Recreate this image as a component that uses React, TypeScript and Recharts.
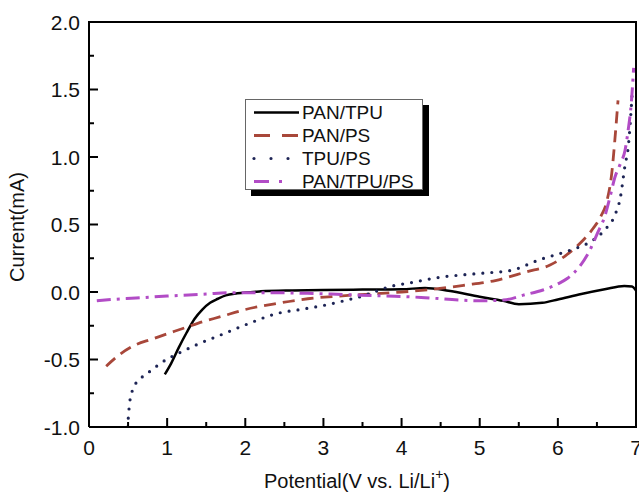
import { Legend, Line, LineChart, XAxis, YAxis } from "recharts";

const FONT = "'Liberation Sans', Arial, sans-serif";

const panTpuX = [0.97, 1.05, 1.15, 1.25, 1.35, 1.45, 1.55, 1.65, 1.75, 1.9, 2.2, 2.6, 3.0, 3.5, 4.0, 4.3, 4.6, 5.0, 5.3, 5.5, 5.8, 6.0, 6.3, 6.6, 6.85, 6.95, 7.0];
const panTpuY = [-0.61, -0.53, -0.41, -0.3, -0.2, -0.13, -0.08, -0.05, -0.025, -0.01, 0.005, 0.012, 0.015, 0.018, 0.02, 0.03, 0.01, -0.035, -0.065, -0.09, -0.08, -0.055, -0.015, 0.02, 0.045, 0.04, 0.01];

const panPsX = [0.22, 0.4, 0.6, 0.8, 1.0, 1.2, 1.4, 1.7, 2.0, 2.4, 2.8, 3.2, 3.6, 4.0, 4.4, 4.8, 5.2, 5.6, 5.9, 6.1, 6.3, 6.45, 6.55, 6.63, 6.69, 6.73, 6.77];
const panPsY = [-0.55, -0.46, -0.39, -0.35, -0.31, -0.27, -0.23, -0.18, -0.13, -0.085, -0.05, -0.03, -0.015, 0.0, 0.02, 0.05, 0.085, 0.15, 0.2, 0.27, 0.37, 0.47, 0.56, 0.68, 0.88, 1.13, 1.42];

const tpuPsX = [0.49, 0.5, 0.52, 0.57, 0.68, 0.8, 0.91, 1.16, 1.38, 1.72, 2.06, 2.4, 2.7, 3.0, 3.3, 3.5, 3.85, 4.13, 4.5, 4.85, 5.05, 5.4, 5.77, 6.16, 6.41, 6.6, 6.73, 6.8, 6.86, 6.9, 6.95];
const tpuPsY = [-1.0, -0.95, -0.82, -0.71, -0.63, -0.58, -0.53, -0.45, -0.39, -0.31, -0.23, -0.16, -0.13, -0.1, -0.06, -0.03, 0.04, 0.07, 0.11, 0.13, 0.14, 0.16, 0.24, 0.31, 0.37, 0.46, 0.57, 0.7, 0.94, 1.07, 1.46];

const panTpuPsX = [0.1, 0.3, 0.6, 1.0, 1.5, 1.8, 2.2, 2.8, 3.3, 3.8, 4.25, 4.75, 5.0, 5.3, 5.58, 5.81, 6.0, 6.12, 6.28, 6.41, 6.51, 6.6, 6.67, 6.73, 6.8, 6.86, 6.9, 6.94, 6.97];
const panTpuPsY = [-0.065, -0.055, -0.045, -0.03, -0.015, -0.005, -0.005, -0.01, -0.02, -0.03, -0.04, -0.06, -0.065, -0.06, -0.02, 0.015, 0.06, 0.1, 0.19, 0.31, 0.44, 0.56, 0.71, 0.85, 0.95, 1.05, 1.2, 1.4, 1.66];

const xTicks = [0, 0.5, 1, 1.5, 2, 2.5, 3, 3.5, 4, 4.5, 5, 5.5, 6, 6.5, 7];
const yTicks = [-1, -0.75, -0.5, -0.25, 0, 0.25, 0.5, 0.75, 1, 1.25, 1.5, 1.75, 2];

const zip = (xs: number[], ys: number[]) => xs.map((x, i) => ({ x, y: ys[i] }));

const SERIES = [
  { name: "PAN/TPU", data: zip(panTpuX, panTpuY), color: "#000000", dash: undefined, cap: "butt", width: 2.5, legendDash: undefined },
  { name: "PAN/PS", data: zip(panPsX, panPsY), color: "#a8473a", dash: "12 7", cap: "butt", width: 2.8, legendDash: "16 12" },
  { name: "TPU/PS", data: zip(tpuPsX, tpuPsY), color: "#1d2455", dash: "0 9", cap: "round", width: 3.2, legendDash: "0 17" },
  { name: "PAN/TPU/PS", data: zip(panTpuPsX, panTpuPsY), color: "#b24cc6", dash: "14 6 3 6", cap: "butt", width: 3, legendDash: "15 10 3 40" },
];

// layout
const W = 639;
const H = 492;
const MARGIN = { top: 22, right: 3, bottom: 25, left: 29 };
const Y_AXIS_W = 60;
const X_AXIS_H = 40;
const PLOT_W = W - MARGIN.left - MARGIN.right - Y_AXIS_W;
const PLOT_H = H - MARGIN.top - MARGIN.bottom - X_AXIS_H;

// inward ticks; the last tick on each axis also closes the frame (top / right side)
function XTick({ x, y, payload }: any) {
  const v = payload.value;
  const major = Number.isInteger(v);
  return (
    <g>
      <line x1={x} x2={x} y1={y} y2={y - (major ? 9 : 5)} stroke="#000" strokeWidth={2} />
      {v === xTicks[xTicks.length - 1] && (
        <line x1={x} x2={x} y1={y + 1} y2={y - PLOT_H - 1} stroke="#000" strokeWidth={2} />
      )}
      {major && (
        <text x={x} y={y + 13} dy="0.72em" textAnchor="middle" fontSize={21} fontFamily={FONT} fill="#111">
          {v}
        </text>
      )}
    </g>
  );
}

function YTick({ x, y, payload }: any) {
  const v = payload.value;
  const major = Math.abs(v * 2 - Math.round(v * 2)) < 1e-6;
  return (
    <g>
      <line x1={x} x2={x + (major ? 9 : 5)} y1={y} y2={y} stroke="#000" strokeWidth={2} />
      {v === yTicks[yTicks.length - 1] && (
        <line x1={x - 1} x2={x + PLOT_W + 1} y1={y} y2={y} stroke="#000" strokeWidth={2} />
      )}
      {major && (
        <text x={x - 9} y={y} dy="0.36em" textAnchor="end" fontSize={21} fontFamily={FONT} fill="#111">
          {v.toFixed(1)}
        </text>
      )}
    </g>
  );
}

function LegendBox() {
  return (
    <div
      style={{
        boxSizing: "border-box",
        width: 178,
        height: 91,
        border: "1px solid #666",
        background: "#fff",
        boxShadow: "6px 6px 0 #000",
        paddingTop: 1,
        fontFamily: FONT,
        fontSize: 19,
        color: "#111",
      }}
    >
      {SERIES.map((s) => (
        <div key={s.name} style={{ height: 23, display: "flex", alignItems: "center" }}>
          <svg width={56} height={23} style={{ display: "block" }}>
            <line
              x1={8}
              x2={53}
              y1={11.5}
              y2={11.5}
              stroke={s.color}
              strokeWidth={s.width}
              strokeDasharray={s.legendDash}
              strokeLinecap={s.cap as any}
            />
          </svg>
          <span style={{ lineHeight: "23px" }}>{s.name}</span>
        </div>
      ))}
    </div>
  );
}

export default function App() {
  const left = MARGIN.left + Y_AXIS_W;
  return (
    <div style={{ position: "absolute", left: 0, top: 0, width: W, height: H, background: "#fff" }}>
      <LineChart width={W} height={H} margin={MARGIN}>
        <XAxis
          dataKey="x"
          type="number"
          domain={[0, 7]}
          ticks={xTicks}
          interval={0}
          tickSize={0}
          tickMargin={0}
          tickLine={false}
          height={X_AXIS_H}
          tick={<XTick />}
          axisLine={{ stroke: "#000", strokeWidth: 2 }}
          allowDataOverflow
          label={{
            content: () => (
              <text x={357} y={488} textAnchor="middle" fontSize={20} fontFamily={FONT} fill="#111">
                Potential(V vs. Li/Li
                <tspan dy={-9} fontSize={14}>+</tspan>
                <tspan dy={9}>)</tspan>
              </text>
            ),
          }}
        />
        <YAxis
          type="number"
          domain={[-1, 2]}
          ticks={yTicks}
          interval={0}
          tickSize={0}
          tickMargin={0}
          tickLine={false}
          width={Y_AXIS_W}
          tick={<YTick />}
          axisLine={{ stroke: "#000", strokeWidth: 2 }}
          allowDataOverflow
          label={{
            content: () => (
              <text
                x={24}
                y={227}
                transform="rotate(-90, 24, 227)"
                textAnchor="middle"
                fontSize={20}
                fontFamily={FONT}
                fill="#111"
              >
                Current(mA)
              </text>
            ),
          }}
        />
        <Legend
          layout="vertical"
          align="center"
          verticalAlign="middle"
          content={() => <LegendBox />}
          wrapperStyle={{ left: 245, top: 99, width: 178 }}
        />
        {SERIES.map((s) => (
          <Line
            key={s.name}
            name={s.name}
            data={s.data}
            dataKey="y"
            type="monotone"
            stroke={s.color}
            strokeWidth={s.width}
            strokeDasharray={s.dash}
            strokeLinecap={s.cap as any}
            dot={false}
            activeDot={false}
            isAnimationActive={false}
          />
        ))}
      </LineChart>
      {/* plot frame overlay */}
      <div
        style={{
          position: "absolute",
          left: left - 1,
          top: MARGIN.top - 1,
          width: PLOT_W + 2,
          height: PLOT_H + 2,
          boxSizing: "border-box",
          borderTop: "2px solid #000",
          borderRight: "2px solid #000",
          pointerEvents: "none",
        }}
      />
    </div>
  );
}
